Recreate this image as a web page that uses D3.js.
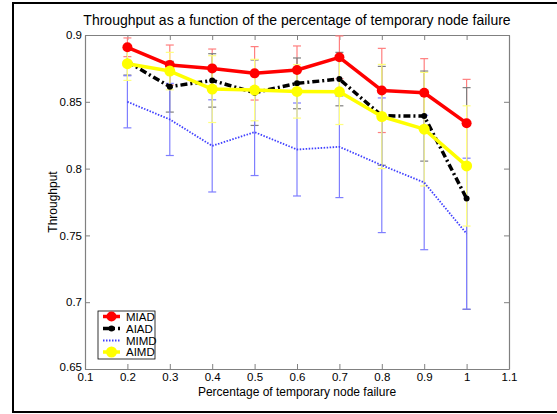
<!DOCTYPE html>
<html><head><meta charset="utf-8">
<script src="https://cdn.jsdelivr.net/npm/d3@7"></script>
<style>body{margin:0;background:#fff}svg{display:block}text{font-family:"Liberation Sans",Arial,sans-serif}</style>
</head><body><svg id="c" width="557" height="414"></svg>
<script>
const xs = [0.2,0.3,0.4,0.5,0.6,0.7,0.8,0.9,1.0];
const miad = [0.8908,0.8775,0.875,0.8713,0.8738,0.8833,0.8585,0.8568,0.834];
const miadErr = [0.007,0.015,0.0145,0.02,0.018,0.016,0.0315,0.0255,0.0328];
const aiad = [0.880,0.8613,0.866,0.8568,0.8638,0.867,0.8395,0.8393,0.7776];
const aiadErr = [0.01,0.019,0.02,0.0245,0.019,0.02,0.037,0.0337,0.083];
const mimd = [0.850,0.8368,0.817,0.8273,0.8143,0.8163,0.8025,0.7896,0.7513];
const mimdErr = [0.0195,0.027,0.0345,0.0325,0.0348,0.038,0.0504,0.0503,0.0565];
const aimd = [0.8785,0.873,0.8595,0.8588,0.8578,0.8575,0.839,0.8295,0.802];
const aimdErr = [0.0125,0.014,0.025,0.023,0.02,0.0245,0.039,0.0425,0.045];
const xTicks = [0.1,0.2,0.3,0.4,0.5,0.6,0.7,0.8,0.9,1,1.1];
const yTicks = [0.65,0.7,0.75,0.8,0.85,0.9];
const seriesNames = ["MIAD","AIAD","MIMD","AIMD"];

const svg = d3.select("#c");
const L=85,R=509,T=35,B=369;
const x = d3.scaleLinear().domain([0.1,1.1]).range([L,R]);
const y = d3.scaleLinear().domain([0.65,0.9]).range([B,T]);

svg.append("rect").attr("x",13).attr("y",3).attr("width",560).attr("height",409)
  .attr("fill","none").attr("stroke","#000").attr("stroke-width",2);

const axisColor="#808080";
const gx = svg.append("g").attr("transform",`translate(0,${B})`)
  .call(d3.axisBottom(x).tickValues(xTicks).tickSizeInner(-5).tickSizeOuter(0).tickPadding(4).tickFormat(d=>d3.format("")(+d.toFixed(1))));
const gxTop = svg.append("g").attr("transform",`translate(0,${T})`)
  .call(d3.axisTop(x).tickValues(xTicks).tickSizeInner(-5).tickSizeOuter(0).tickFormat(""));
const gy = svg.append("g").attr("transform",`translate(${L},0)`)
  .call(d3.axisLeft(y).tickValues(yTicks).tickSizeInner(-5).tickSizeOuter(0).tickPadding(3).tickFormat(d=>d3.format("")(+d.toFixed(2))));
const gyR = svg.append("g").attr("transform",`translate(${R},0)`)
  .call(d3.axisRight(y).tickValues(yTicks).tickSizeInner(-5).tickSizeOuter(0).tickFormat(""));
[gx,gxTop,gy,gyR].forEach(g=>{
  g.select(".domain").attr("stroke",axisColor).attr("stroke-width",1.2);
  g.selectAll(".tick line").attr("stroke",axisColor);
  g.selectAll(".tick text").attr("fill","#000").attr("font-size",11.5);
});
gy.selectAll(".tick text").filter(d=>d===0.65).attr("y",-2.5);

const series = [
  {name:seriesNames[0], v:miad, e:miadErr, color:"#ff0000", ecol:"#ff7f7f", w:3.5, dash:null, r:5},
  {name:seriesNames[1], v:aiad, e:aiadErr, color:"#000000", ecol:"#7f7f7f", w:3.5, dash:"7,3,2,3", r:3},
  {name:seriesNames[2], v:mimd, e:mimdErr, color:"#4040ff", ecol:"#7f7fff", w:1.8, dash:"1.5,1.5", r:0},
  {name:seriesNames[3], v:aimd, e:aimdErr, color:"#ffff00", ecol:"#ffff7f", w:3.5, dash:null, r:5.5}
];

const plot = svg.append("g");
series.forEach(s=>{
  const g = plot.append("g");
  xs.forEach((xv,i)=>{
    const lo=y(s.v[i]-s.e[i]), hi=y(s.v[i]+s.e[i]), cx=x(xv);
    g.append("line").attr("x1",cx).attr("x2",cx).attr("y1",lo).attr("y2",hi).attr("stroke",s.ecol).attr("stroke-width",1.2);
    [lo,hi].forEach(yy=>g.append("line").attr("x1",cx-4).attr("x2",cx+4).attr("y1",yy).attr("y2",yy).attr("stroke",s.ecol).attr("stroke-width",1.2));
  });
});
const line = d3.line().x((d,i)=>x(xs[i])).y(d=>y(d));
[2,0,1,3].forEach(k=>{
  const s=series[k];
  plot.append("path").datum(s.v).attr("d",line).attr("fill","none").attr("stroke",s.color)
    .attr("stroke-width",s.w).attr("stroke-dasharray",s.dash).attr("stroke-linejoin","round");
  if(s.r>0) plot.selectAll(null).data(s.v).enter().append("circle")
    .attr("cx",(d,i)=>x(xs[i])).attr("cy",d=>y(d)).attr("r",s.r).attr("fill",s.color);
});

svg.append("text").attr("x",(L+R)/2).attr("y",25).attr("text-anchor","middle").attr("font-size",14).text("Throughput as a function of the percentage of temporary node failure");
svg.append("text").attr("x",(L+R)/2).attr("y",396).attr("text-anchor","middle").attr("font-size",12).text("Percentage of temporary node failure");
svg.append("text").attr("transform",`translate(57,${(T+B)/2}) rotate(-90)`).attr("text-anchor","middle").attr("font-size",12).text("Throughput");

const lg = svg.append("g");
lg.append("rect").attr("x",98).attr("y",311).attr("width",57).attr("height",48).attr("fill","#fff").attr("stroke","#000").attr("stroke-width",0.8);
const ly=[316.5,328.5,340.5,352];
series.forEach((s,i)=>{
  lg.append("line").attr("x1",103).attr("x2",120).attr("y1",ly[i]).attr("y2",ly[i]).attr("stroke",s.color)
    .attr("stroke-width",s.w).attr("stroke-dasharray",s.dash);
  if(s.r>0) lg.append("circle").attr("cx",111.5).attr("cy",ly[i]).attr("r",s.r).attr("fill",s.color);
  lg.append("text").attr("x",126).attr("y",ly[i]+4).attr("font-size",11.5).text(s.name);
});
</script></body></html>
